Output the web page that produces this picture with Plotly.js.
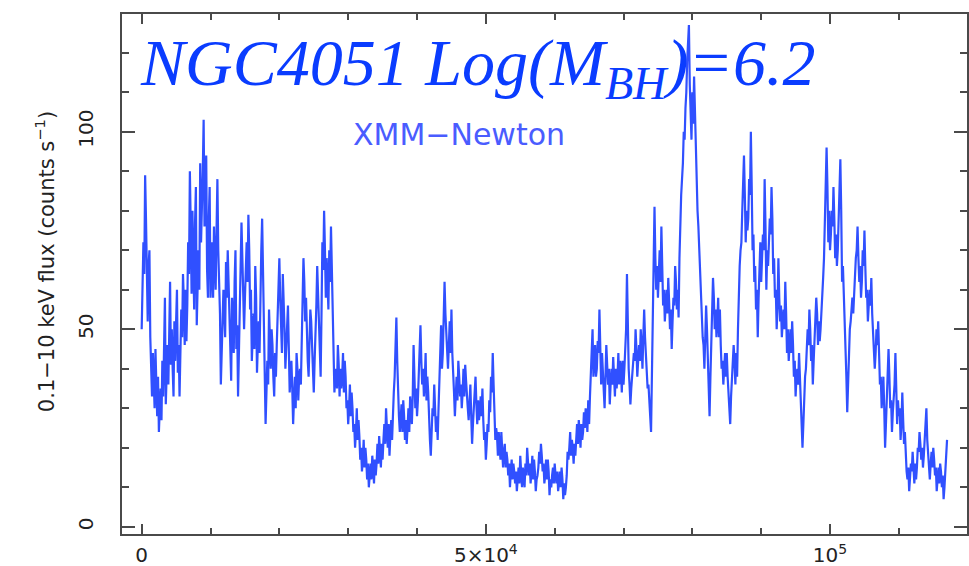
<!DOCTYPE html>
<html>
<head>
<meta charset="utf-8">
<script src="https://cdn.plot.ly/plotly-3.0.1.min.js"></script>
<style>html,body{margin:0;padding:0;background:#fff}#chart{width:969px;height:566px}</style>
</head>
<body>
<div id="chart"></div>
<script>
// Light curve of NGC4051 (XMM-Newton), counts/s.
// "Even" bins start at t = 0 and are 250 s apart; "odd" bins sit 125 s after each even bin.
const fluxEven1 = [ // 0 – 25 ks
  50, 72, 89, 60, 66, 48, 33, 38, 45, 28, 24, 35, 42, 50, 31, 46, 57, 41, 40, 52,
  52, 39, 33, 55, 64, 46, 47, 72, 90, 59, 62, 77, 51, 70, 92, 80, 103, 85, 65, 78,
  58, 72, 76, 60, 88, 62, 36, 48, 55, 67, 70, 52, 37, 50, 62, 45, 33, 56, 77, 60,
  58, 72, 79, 55, 42, 54, 66, 39, 52, 64, 78, 50, 26, 42, 55, 40, 46, 33, 38, 52,
  68, 52, 64, 50, 45, 56, 34, 42, 26, 38, 44, 32, 40, 49, 68, 52, 46, 38, 55, 44
];
const fluxOdd1 = [
  58, 64, 78, 52, 70, 41, 44, 30, 36, 38, 30, 27, 33, 58, 40, 36, 62, 50, 33, 42,
  60, 46, 42, 48, 57, 60, 56, 64, 76, 80, 55, 86, 62, 60, 72, 90, 76, 94, 58, 86,
  66, 58, 68, 75, 70, 54, 44, 60, 48, 58, 62, 45, 58, 44, 70, 51, 45, 62, 68, 50,
  63, 62, 70, 60, 48, 45, 58, 46, 44, 70, 64, 42, 34, 36, 48, 50, 38, 44, 46, 60,
  58, 44, 58, 40, 52, 45, 38, 35, 32, 30, 40, 38, 36, 58, 62, 58, 42, 46, 52, 40
];
const fluxEven2 = [ // 25 – 50 ks
  34, 48, 66, 50, 38, 72, 80, 58, 60, 70, 76, 50, 34, 40, 46, 33, 35, 44, 42, 30,
  26, 36, 34, 24, 20, 30, 27, 17, 14, 22, 20, 12, 10, 16, 18, 11, 13, 21, 23, 15,
  17, 26, 30, 20, 18, 27, 30, 38, 53, 30, 24, 31, 32, 22, 21, 30, 33, 26, 46, 30,
  28, 38, 51, 36, 33, 44, 38, 26, 18, 30, 36, 24, 22, 40, 51, 44, 62, 48, 40, 52,
  55, 36, 28, 38, 42, 33, 30, 40, 41, 32, 27, 36, 21, 30, 38, 26, 27, 33, 35, 22
];
const fluxOdd2 = [
  42, 56, 60, 46, 54, 65, 70, 68, 55, 62, 66, 43, 38, 35, 41, 40, 38, 34, 38, 32,
  30, 28, 30, 26, 24, 22, 23, 20, 17, 15, 17, 16, 13, 12, 15, 17, 16, 16, 19, 21,
  22, 21, 25, 26, 23, 22, 34, 45, 42, 28, 28, 24, 28, 27, 25, 24, 30, 33, 38, 35,
  32, 44, 42, 40, 37, 32, 34, 22, 25, 28, 30, 28, 30, 44, 40, 52, 54, 44, 46, 44,
  44, 34, 33, 32, 38, 36, 34, 33, 37, 30, 32, 28, 26, 32, 31, 32, 29, 28, 27, 24
];
const fluxEven3 = [ // 50 – 75 ks
  17, 26, 32, 38, 44, 30, 25, 18, 20, 24, 15, 21, 19, 13, 10, 17, 16, 11, 9, 15,
  18, 10, 12, 16, 20, 13, 11, 18, 17, 9, 13, 19, 21, 14, 11, 17, 17, 8, 10, 15,
  16, 11, 9, 14, 15, 7, 8, 13, 17, 24, 22, 16, 18, 26, 27, 20, 22, 29, 30, 24,
  26, 38, 50, 42, 38, 47, 55, 36, 40, 30, 46, 36, 31, 40, 43, 33, 35, 44, 42, 34,
  36, 44, 64, 40, 31, 38, 44, 50, 38, 46, 50, 40, 55, 44, 35, 30, 24, 50, 81, 60
];
const fluxOdd3 = [
  21, 24, 29, 34, 36, 22, 23, 24, 17, 18, 19, 15, 17, 16, 14, 12, 14, 14, 12, 11,
  14, 15, 10, 13, 16, 16, 14, 12, 14, 12, 15, 16, 18, 16, 13, 12, 14, 12, 13, 11,
  13, 14, 11, 10, 12, 11, 10, 19, 20, 18, 20, 21, 22, 21, 24, 26, 24, 25, 28, 32,
  33, 44, 38, 46, 40, 44, 46, 44, 36, 38, 41, 40, 36, 36, 38, 40, 38, 36, 40, 42,
  40, 50, 48, 36, 35, 40, 42, 45, 42, 42, 46, 48, 48, 40, 36, 28, 36, 62, 68, 66
];
const fluxEven4 = [ // 75 – 100 ks
  58, 70, 76, 56, 52, 60, 63, 50, 45, 58, 66, 55, 53, 80, 88, 100, 106, 118, 127, 105,
  110, 114, 92, 80, 70, 56, 48, 40, 56, 42, 28, 46, 63, 50, 48, 58, 55, 40, 36, 44,
  44, 34, 26, 38, 46, 36, 38, 60, 70, 80, 94, 72, 75, 88, 100, 70, 62, 55, 48, 66,
  62, 74, 88, 60, 66, 78, 86, 64, 58, 50, 68, 52, 48, 55, 62, 44, 42, 50, 52, 38,
  33, 40, 44, 30, 20, 34, 40, 50, 55, 42, 36, 48, 58, 46, 47, 56, 63, 78, 96, 72
];
const fluxOdd4 = [
  64, 62, 66, 60, 56, 54, 57, 55, 52, 56, 62, 60, 68, 84, 92, 98, 110, 122, 112, 98,
  102, 104, 88, 76, 62, 52, 46, 48, 50, 36, 38, 54, 58, 55, 52, 48, 46, 42, 40, 38,
  38, 32, 33, 41, 42, 44, 50, 66, 72, 86, 84, 80, 78, 84, 86, 74, 66, 60, 58, 72,
  68, 70, 76, 70, 72, 74, 78, 68, 60, 56, 58, 56, 52, 50, 54, 50, 46, 44, 46, 42,
  38, 36, 38, 27, 26, 38, 44, 46, 50, 46, 42, 52, 54, 52, 50, 58, 68, 84, 86, 80
];
const fluxEven5 = [ // 100 – 117 ks
  70, 80, 86, 68, 66, 78, 93, 62, 57, 45, 29, 46, 52, 58, 60, 68, 76, 62, 58, 70,
  75, 58, 52, 60, 63, 48, 40, 50, 52, 36, 30, 38, 20, 32, 45, 30, 24, 32, 44, 26,
  28, 22, 34, 21, 18, 12, 9, 16, 19, 11, 12, 20, 24, 17, 15, 22, 30, 18, 12, 19,
  20, 13, 9, 15, 16, 10, 7, 14, 22
];
const fluxOdd5 = [
  74, 76, 78, 74, 70, 84, 80, 66, 52, 38, 36, 50, 56, 54, 64, 70, 68, 66, 62, 66,
  66, 60, 56, 56, 54, 46, 44, 46, 44, 38, 34, 30, 26, 36, 38, 32, 29, 36, 34, 32,
  30, 26, 27, 24, 14, 15, 12, 14, 15, 16, 15, 19, 21, 20, 18, 24, 22, 16, 16, 15,
  17, 15, 12, 11, 14, 13, 10, 16
];
const binSize = 125; // seconds between successive samples after merging
const fluxEven = [].concat(fluxEven1, fluxEven2, fluxEven3, fluxEven4, fluxEven5);
const fluxOdd = [].concat(fluxOdd1, fluxOdd2, fluxOdd3, fluxOdd4, fluxOdd5);
const flux = [];
fluxEven.forEach((v, i) => { flux.push(v); if (i < fluxOdd.length) flux.push(fluxOdd[i]); });
const time = flux.map((_, i) => i * binSize);

const xTickVals = [0, 50000, 100000];
const xTickText = ['0', '5×10<sup>4</sup>', '10<sup>5</sup>'];
const xMinorVals = [10000, 20000, 30000, 40000, 60000, 70000, 80000, 90000, 110000];
const yTickVals = [0, 50, 100];
const yTickText = ['0', '50', '100'];
const yMinorVals = [10, 20, 30, 40, 60, 70, 80, 90, 110, 120];

const titleText = 'NGC4051 Log(M<sub>BH</sub>)=6.2';
const instrumentText = 'XMM−Newton';
const yTitleText = '0.1−10 keV flux (counts s<sup>−1</sup>)';

const frame = '#4a4a4a';
const tickFont = {family: 'DejaVu Sans', size: 20, color: '#222222'};

const trace = {
  x: time, y: flux, type: 'scatter', mode: 'lines',
  line: {color: '#3050ff', width: 2.2},
  hoverinfo: 'skip'
};

const layout = {
  width: 969, height: 566,
  margin: {l: 122, r: 2, t: 14, b: 32, pad: 0},
  paper_bgcolor: '#ffffff', plot_bgcolor: '#ffffff',
  showlegend: false,
  xaxis: {
    range: [-2860, 119900], showgrid: false, zeroline: false,
    showline: true, linecolor: frame, linewidth: 2, mirror: 'allticks',
    ticks: 'inside', ticklen: 10, tickwidth: 2, tickcolor: frame,
    tickmode: 'array', tickvals: xTickVals, ticktext: xTickText, tickfont: tickFont,
    ticklabelstandoff: 2,
    minor: {tickmode: 'array', tickvals: xMinorVals, ticks: 'inside', ticklen: 6, tickwidth: 2, tickcolor: frame, showgrid: false}
  },
  yaxis: {
    range: [-1.82, 129.8], showgrid: false, zeroline: false,
    showline: true, linecolor: frame, linewidth: 2, mirror: 'allticks',
    ticks: 'inside', ticklen: 13, tickwidth: 2, tickcolor: frame,
    tickmode: 'array', tickvals: yTickVals, ticktext: yTickText, tickfont: tickFont, tickangle: -90,
    ticklabelstandoff: 19,
    minor: {tickmode: 'array', tickvals: yMinorVals, ticks: 'inside', ticklen: 7, tickwidth: 2, tickcolor: frame, showgrid: false}
  },
  annotations: [
    {text: titleText, xref: 'paper', yref: 'paper', x: 0.019, y: 0.898, xanchor: 'left', yanchor: 'middle',
     showarrow: false, font: {family: 'Liberation Serif', size: 66, color: '#0a3cff', style: 'italic'}},
    {text: instrumentText, xref: 'paper', yref: 'paper', x: 0.399, y: 0.769, xanchor: 'center', yanchor: 'middle',
     showarrow: false, font: {family: 'DejaVu Sans', size: 30, color: '#4a5cff'}},
    {text: yTitleText, xref: 'paper', yref: 'paper', x: -0.091, y: 0.523, xanchor: 'center', yanchor: 'middle',
     textangle: -90, showarrow: false, font: {family: 'DejaVu Sans', size: 21, color: '#222222'}}
  ]
};

Plotly.newPlot('chart', [trace], layout, {staticPlot: true, displayModeBar: false});
</script>
</body>
</html>
